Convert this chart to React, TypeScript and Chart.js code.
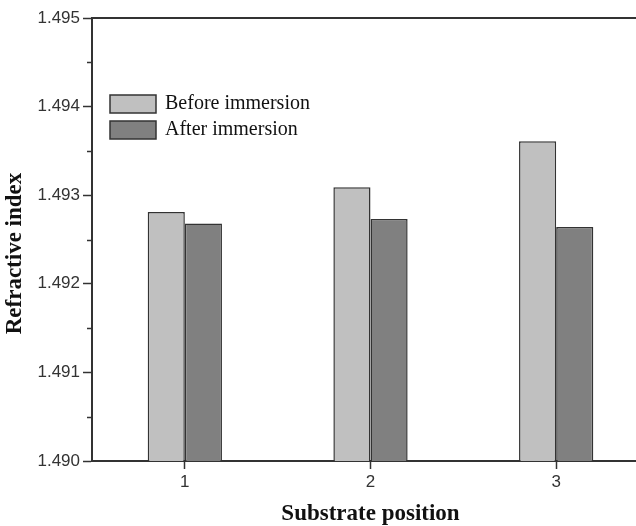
import React, { useEffect, useRef } from 'react';
import { Chart, registerables } from 'chart.js';

Chart.register(...registerables);

const categories = ['1', '2', '3'];
const seriesNames = ['Before immersion', 'After immersion'];
const beforeImmersion = [1.49281, 1.49309, 1.49361];
const afterImmersion = [1.49268, 1.49273, 1.49264];
const seriesColors = ['#c0c0c0', '#808080'];
const yMin = 1.49;
const yMax = 1.495;
const yMajorStep = 0.001;
const yMinorStep = 0.0005;
const xTitle = 'Substrate position';
const yTitle = 'Refractive index';

const AXIS = '#333333';

const decorPlugin = {
  id: 'decor',
  afterDraw(chart: any) {
    const { ctx, chartArea } = chart;
    const y = chart.scales.y;
    ctx.save();
    // top frame line
    ctx.strokeStyle = AXIS;
    ctx.lineWidth = 2;
    ctx.beginPath();
    ctx.moveTo(chartArea.left - 1, chartArea.top);
    ctx.lineTo(chartArea.right, chartArea.top);
    ctx.stroke();
    // minor ticks
    ctx.lineWidth = 1.5;
    const n = Math.round((yMax - yMin) / yMinorStep);
    for (let i = 1; i < n; i += 2) {
      const py = Math.round(y.getPixelForValue(yMin + i * yMinorStep)) + 0.5;
      ctx.beginPath();
      ctx.moveTo(chartArea.left - 5, py);
      ctx.lineTo(chartArea.left, py);
      ctx.stroke();
    }
    // y title
    ctx.fillStyle = '#111';
    ctx.font = 'bold 23px "Liberation Serif", "Times New Roman", serif';
    ctx.textAlign = 'center';
    ctx.textBaseline = 'middle';
    ctx.translate(15, (chartArea.top + chartArea.bottom) / 2 + 14);
    ctx.rotate(-Math.PI / 2);
    ctx.fillText(yTitle, 0, 0);
    ctx.restore();
    // legend
    ctx.save();
    const bx = chartArea.left + 18;
    let by = chartArea.top + 77;
    ctx.font = '20px "Liberation Serif", "Times New Roman", serif';
    ctx.textAlign = 'left';
    ctx.textBaseline = 'middle';
    chart.data.datasets.forEach((ds: any) => {
      ctx.fillStyle = ds.backgroundColor;
      ctx.fillRect(bx, by, 46, 18);
      ctx.strokeStyle = AXIS;
      ctx.lineWidth = 1.5;
      ctx.strokeRect(bx, by, 46, 18);
      ctx.fillStyle = '#111';
      ctx.fillText(ds.label, bx + 55, by + 9);
      by += 26;
    });
    ctx.restore();
  },
};

export default function App() {
  const ref = useRef<HTMLCanvasElement | null>(null);
  useEffect(() => {
    if (!ref.current) return;
    const chart = new Chart(ref.current, {
      type: 'bar',
      data: {
        labels: categories,
        datasets: [
          {
            label: seriesNames[0],
            data: beforeImmersion,
            backgroundColor: seriesColors[0],
            borderColor: AXIS,
            borderWidth: 1.5,
            categoryPercentage: 0.4,
            barPercentage: 1,
          },
          {
            label: seriesNames[1],
            data: afterImmersion,
            backgroundColor: seriesColors[1],
            borderColor: AXIS,
            borderWidth: 1.5,
            categoryPercentage: 0.4,
            barPercentage: 1,
          },
        ],
      },
      options: {
        responsive: false,
        animation: false,
        layout: { padding: { top: 18, right: 11, left: 0, bottom: 0 } },
        plugins: {
          legend: { display: false },
          tooltip: { enabled: false },
        },
        scales: {
          x: {
            type: 'category',
            offset: true,
            grid: {
              offset: false,
              drawOnChartArea: false,
              tickLength: 8,
              tickColor: AXIS,
              tickWidth: 1.5,
            },
            border: { color: AXIS, width: 2 },
            ticks: {
              color: '#333',
              font: { family: '"Liberation Sans", Arial, sans-serif', size: 17 },
              padding: 3,
            },
            title: {
              display: true,
              text: xTitle,
              color: '#111',
              font: { family: '"Liberation Serif", "Times New Roman", serif', size: 23, weight: 'bold', lineHeight: 1 },
              padding: { top: 0, bottom: 0 },
            },
            afterFit: (s: any) => {
              s.height = 65;
            },
          },
          y: {
            type: 'linear',
            min: yMin,
            max: yMax,
            grid: {
              drawOnChartArea: false,
              tickLength: 9,
              tickColor: AXIS,
              tickWidth: 1.5,
            },
            border: { color: AXIS, width: 2 },
            ticks: {
              stepSize: yMajorStep,
              color: '#333',
              font: { family: '"Liberation Sans", Arial, sans-serif', size: 17 },
              padding: 3,
              callback: (v: any) => Number(v).toFixed(3),
            },
            afterFit: (s: any) => {
              s.width = 92;
            },
          },
        },
      },
      plugins: [decorPlugin],
    } as any);
    return () => chart.destroy();
  }, []);
  return (
    <div style={{ position: 'absolute', left: 0, top: 0, width: 636, height: 526, overflow: 'hidden', background: '#fff' }}>
      <canvas ref={ref} width={660} height={526} style={{ width: 660, height: 526, display: 'block' }} />
    </div>
  );
}
